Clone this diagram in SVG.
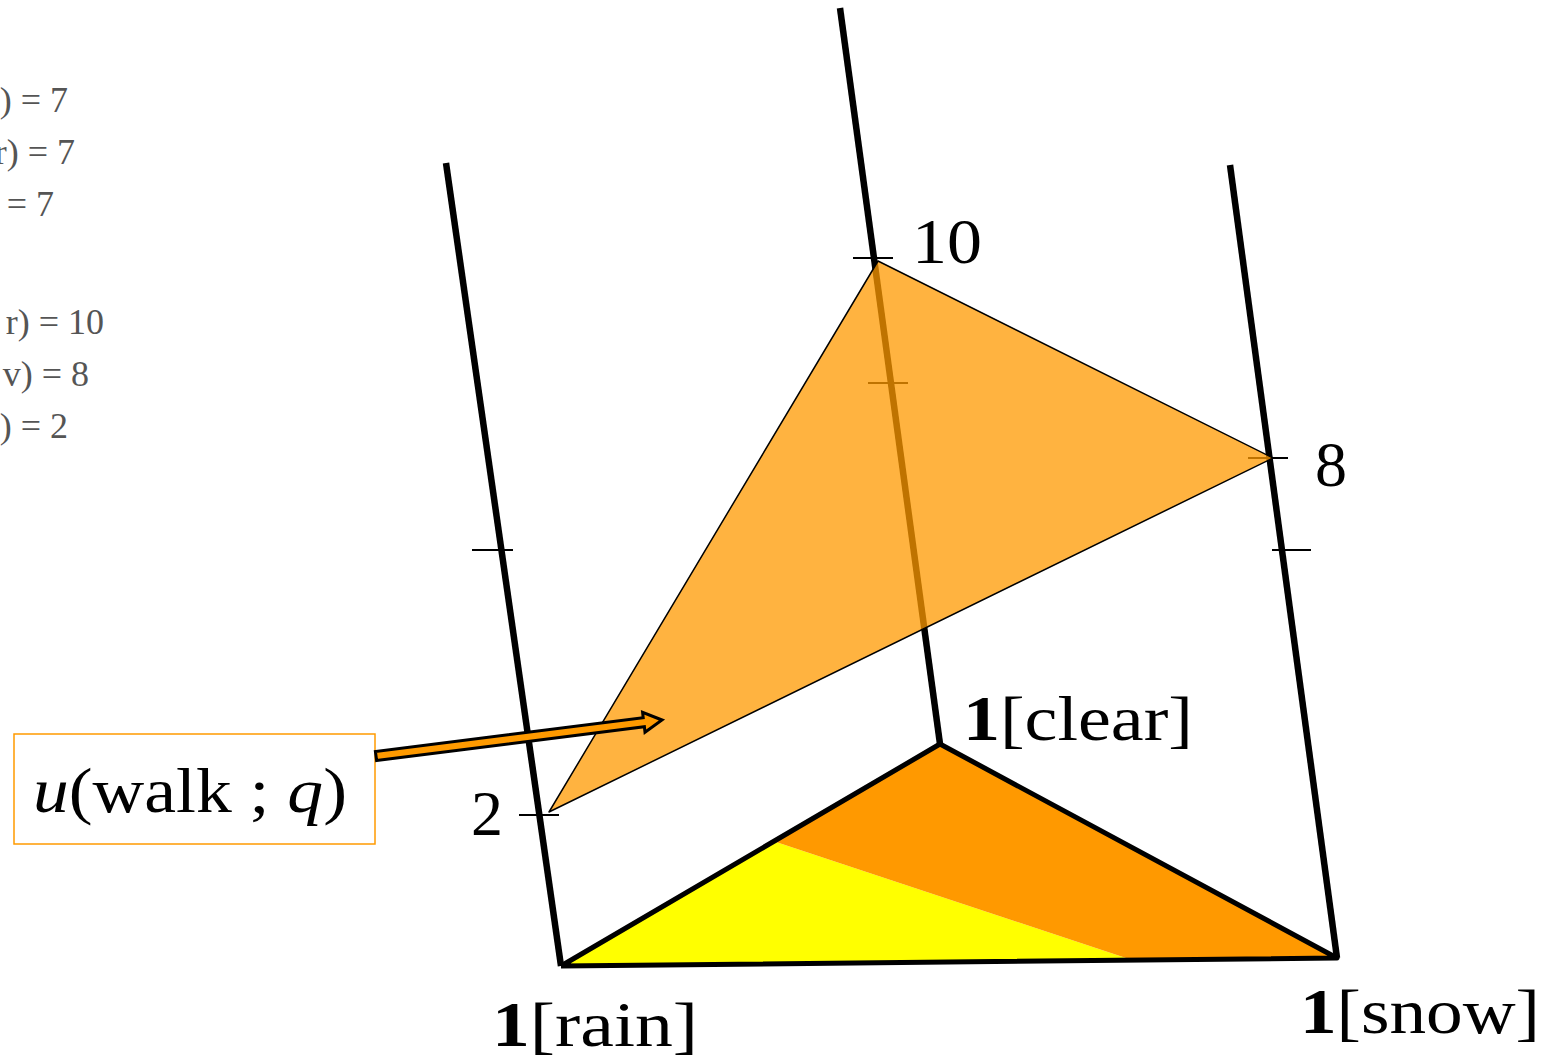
<svg xmlns="http://www.w3.org/2000/svg" width="1547" height="1059" viewBox="0 0 1547 1059">
<style>
.axis{stroke:#000;stroke-width:6.5;fill:none;stroke-linecap:butt}
.tick{stroke:#000;stroke-width:2;fill:none}
.edge{stroke:#000;stroke-width:5;fill:none;stroke-linejoin:round}
.lbl{font-family:"Liberation Serif",serif;font-size:64px;fill:#000}
.side{font-family:"Liberation Serif",serif;font-size:36px;fill:#555;text-anchor:end}
</style>
<rect width="1547" height="1059" fill="#fff"/>
<g id="side-notes">
<text class="side" x="68" y="112">) = 7</text>
<text class="side" x="75" y="164">r) = 7</text>
<text class="side" x="54" y="216">= 7</text>
<text class="side" x="104" y="334">r) = 10</text>
<text class="side" x="89" y="386">v) = 8</text>
<text class="side" x="68" y="438">) = 2</text>
</g>
<g id="simplex">
<polygon points="561,966 776,842 1135,961" fill="#FFFF00"/>
<polygon points="776,842 940,744 1337,958 1135,961" fill="#FF9900"/>
<polyline class="edge" points="561,966 940,744 1337,958 561,966"/>
</g>
<g id="axes">
<line class="axis" x1="446" y1="163" x2="561" y2="966"/>
<line class="axis" x1="840" y1="8" x2="940" y2="744"/>
<line class="axis" x1="1230" y1="165" x2="1337" y2="958"/>
<line class="tick" x1="472" y1="550" x2="513" y2="550"/>
<line class="tick" x1="519" y1="815" x2="559" y2="815"/>
<line class="tick" x1="853" y1="258" x2="893" y2="258"/>
<line class="tick" x1="868" y1="383" x2="908" y2="383"/>
<line class="tick" x1="1248" y1="458" x2="1288" y2="458"/>
<line class="tick" x1="1272" y1="550" x2="1311" y2="550"/>
</g>
<g id="utility-plane">
<polygon points="549,812 878,261 1273,458" fill="#FF9A00" fill-opacity="0.75" stroke="#000" stroke-width="1.5" stroke-linejoin="round"/>
</g>
<g id="labels">
<text class="lbl" x="912" y="263" textLength="70" lengthAdjust="spacingAndGlyphs">10</text>
<text class="lbl" x="1315" y="486">8</text>
<text class="lbl" x="471" y="835">2</text>
<text class="lbl" x="963" y="740" textLength="230" lengthAdjust="spacingAndGlyphs"><tspan font-weight="bold">1</tspan>[clear]</text>
<text class="lbl" x="492" y="1046" textLength="206" lengthAdjust="spacingAndGlyphs"><tspan font-weight="bold">1</tspan>[rain]</text>
<text class="lbl" x="1300" y="1033" textLength="240" lengthAdjust="spacingAndGlyphs"><tspan font-weight="bold">1</tspan>[snow]</text>
</g>
<g id="utility-box">
<rect x="14" y="734" width="361" height="110" fill="#fff" stroke="#FF9A00" stroke-width="1.5"/>
<text class="lbl" x="33" y="812" font-size="62" textLength="314" lengthAdjust="spacingAndGlyphs"><tspan font-style="italic">u</tspan>(walk ; <tspan font-style="italic">q</tspan>)</text>
</g>
<g id="connectors">
<polygon points="376.6,760.5 644.4,726.8 645.0,732.2 662,720 642.6,712.4 643.2,717.8 375.4,751.5" fill="#FF9A00" stroke="#000" stroke-width="3" stroke-linejoin="miter"/>
</g>
</svg>
